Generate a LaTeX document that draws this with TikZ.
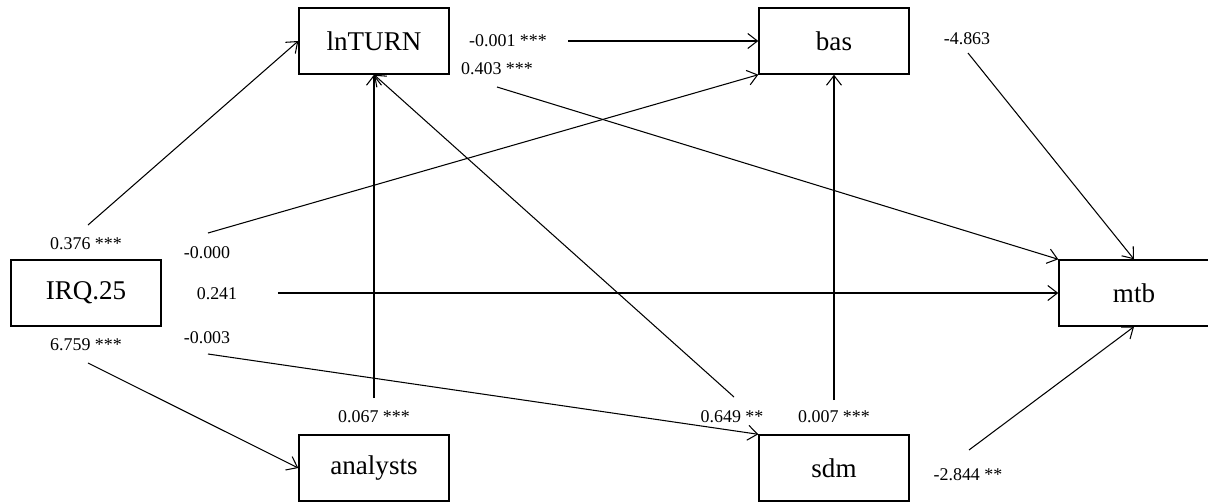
\documentclass[tikz,border=0pt]{standalone}
\usepackage{fontspec}
\setmainfont{Liberation Serif}
\usetikzlibrary{arrows.meta,positioning}

\begin{document}
\begin{tikzpicture}[
    node distance=9.2cm,
    >={Straight Barb[length=5.5pt,width=8.5pt]},
    var/.style={
        rectangle,
        draw=black,
        line width=0.8pt,
        minimum width=3cm,
        minimum height=1.32cm,
        inner sep=0pt,
        text centered,
        font=\fontsize{15.4}{18}\selectfont
    },
    coef/.style={
        inner sep=0pt,
        font=\fontsize{10.2}{12}\selectfont
    },
    link/.style={
        ->,
        line width=0.6pt
    }
  ]
  \useasboundingbox (-7.48,-9.22) rectangle (16.68,0.82);

  % the variables
  \node [var] (lnturn) at (0,0) {lnTURN};
  \node [var, right of=lnturn] (bas) {bas};
  \node [var, below of=lnturn, yshift=0.66cm] (analysts) {analysts};
  \node [var, below of=bas, yshift=0.66cm] (sdm) {sdm};
  \node [var, below of=lnturn, xshift=-5.76cm, yshift=4.16cm] (irq) {IRQ.25};
  \node [var, below of=bas, xshift=6cm, yshift=4.16cm] (mtb) {mtb};

  % paths out of IRQ.25
  \draw [link] ([shift={(0.04,1.36)}]irq.center) -- (lnturn.west);
  \draw [link] ([shift={(2.44,1.20)}]irq.center) -- (bas.south west);
  \draw [link] ([shift={(3.84,0)}]irq.center) -- (mtb.west);
  \draw [link] ([shift={(2.44,-1.22)}]irq.center) -- (sdm.north west);
  \draw [link] ([shift={(0.04,-1.40)}]irq.center) -- (analysts.west);
  \node [coef] (c-irq-lnturn) at ([shift={(0,0.99)}]irq.center) {0.376 ***};
  \node [coef] (c-irq-bas) at ([shift={(2.42,0.80)}]irq.center) {-0.000};
  \node [coef] (c-irq-mtb) at ([shift={(2.62,-0.02)}]irq.center) {0.241};
  \node [coef] (c-irq-sdm) at ([shift={(2.42,-0.90)}]irq.center) {-0.003};
  \node [coef] (c-irq-analysts) at ([shift={(0,-1.04)}]irq.center) {6.759 ***};

  % paths out of lnTURN
  \draw [link] ([shift={(3.88,0)}]lnturn.center) -- (bas.west);
  \draw [link] ([shift={(2.46,-0.92)}]lnturn.center) -- (mtb.north west);
  \node [coef] (c-lnturn-bas) at ([shift={(2.68,0)}]lnturn.center) {-0.001 ***};
  \node [coef] (c-lnturn-mtb) at ([shift={(2.46,-0.55)}]lnturn.center) {0.403 ***};

  % paths out of analysts and sdm
  \draw [link] ([shift={(0,1.40)}]analysts.center) -- (lnturn.south);
  \draw [link] ([shift={(-2.0,1.42)}]sdm.center) -- (lnturn.south);
  \draw [link] ([shift={(0,1.36)}]sdm.center) -- (bas.south);
  \draw [link] ([shift={(2.70,0.36)}]sdm.center) -- (mtb.south);
  \node [coef] (c-analysts-lnturn) at ([shift={(0,1.03)}]analysts.center) {0.067 ***};
  \node [coef] (c-sdm-lnturn) at ([shift={(-2.04,1.02)}]sdm.center) {0.649 **};
  \node [coef] (c-sdm-bas) at ([shift={(0,1.02)}]sdm.center) {0.007 ***};
  \node [coef] (c-sdm-mtb) at ([shift={(2.68,-0.14)}]sdm.center) {-2.844 **};

  % path out of bas
  \draw [link] ([shift={(2.68,-0.24)}]bas.center) -- (mtb.north);
  \node [coef] (c-bas-mtb) at ([shift={(2.66,0.05)}]bas.center) {-4.863};

\end{tikzpicture}
\end{document}
